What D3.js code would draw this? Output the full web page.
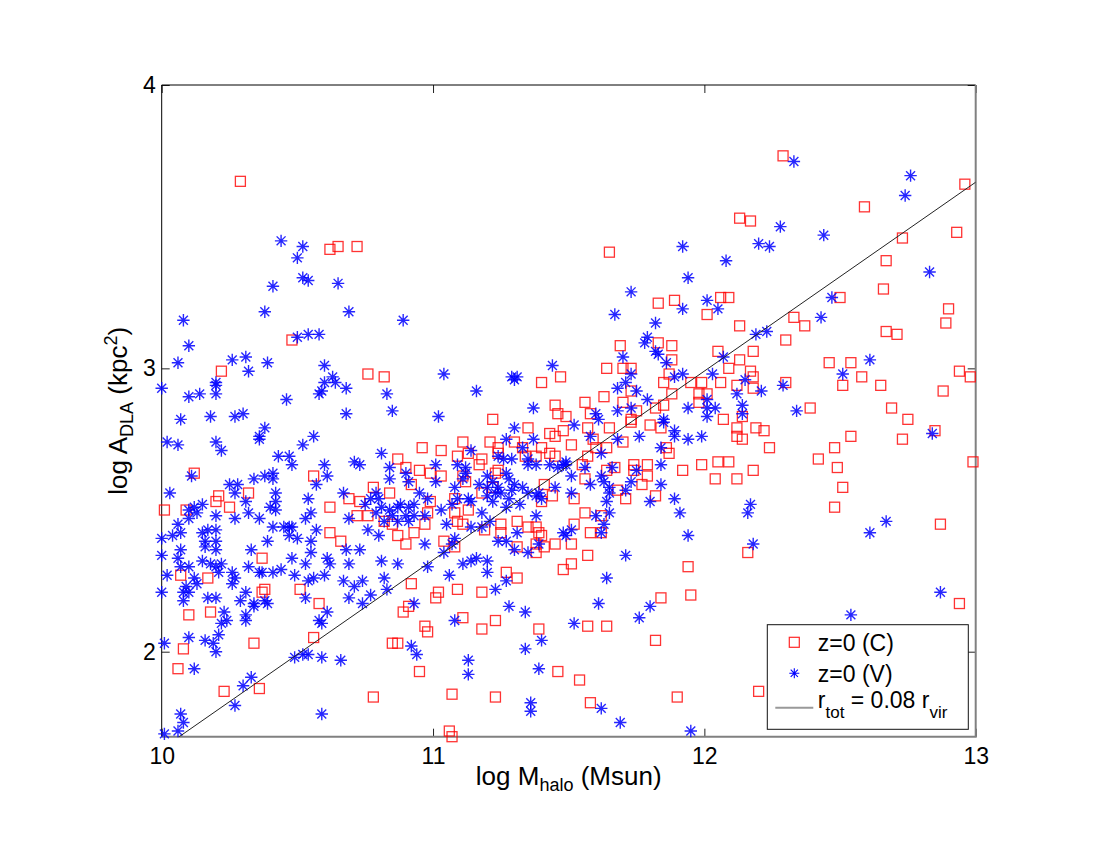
<!DOCTYPE html>
<html>
<head>
<meta charset="utf-8">
<script src="https://cdn.jsdelivr.net/npm/d3@7"></script>
<style>
  body { margin: 0; background: #fff; }
  svg { display: block; }
  text { font-family: "Liberation Sans", Arial, Helvetica, sans-serif; white-space: pre; }
</style>
</head>
<body>
<div id="chart"></div>
<script>
// tick values
const xTicks = [10, 11, 12, 13];
const yTicks = [2, 3, 4];

// r_tot = 0.08 r_vir relation (log A vs log M)
const lineM = [10, 13];
const lineA = [1.657, 3.657];

// z=0 (C): [log Mhalo, log A_DLA]
const haloC = [
  [10.29,3.66],[10.62,3.42],[10.65,3.43],[10.72,3.43],[10.48,3.10],[10.22,2.99],[10.12,2.63],[10.56,2.62],
  [10.32,2.56],[10.21,2.55],[10.20,2.53],[10.25,2.51],[10.01,2.50],[10.09,2.50],[10.62,2.51],[10.69,2.54],
  [10.62,2.42],[10.66,2.39],[10.37,2.33],[10.07,2.27],[10.17,2.26],[10.37,2.21],[10.38,2.22],[10.51,2.22],
  [10.58,2.17],[10.10,2.13],[10.18,2.14],[10.56,2.05],[10.34,2.03],[10.08,2.01],[10.06,1.94],[10.23,1.86],
  [10.36,1.87],[10.76,2.98],[10.82,2.97],[11.40,2.95],[11.47,2.97],[11.45,2.87],[11.46,2.84],[11.22,2.82],
  [11.35,2.79],[11.43,2.77],[11.45,2.76],[11.48,2.78],[11.21,2.74],[11.11,2.74],[10.96,2.72],[11.03,2.71],
  [11.09,2.69],[11.13,2.70],[11.18,2.68],[11.17,2.66],[11.24,2.72],[11.24,2.70],[11.30,2.74],[11.33,2.72],
  [11.40,2.72],[11.38,2.69],[11.43,2.70],[11.45,2.69],[11.34,2.69],[10.87,2.68],[10.90,2.65],[10.95,2.64],
  [10.99,2.63],[11.03,2.62],[10.92,2.59],[11.11,2.62],[11.12,2.60],[11.22,2.58],[11.23,2.63],[11.24,2.64],
  [11.18,2.56],[11.41,2.59],[11.44,2.55],[11.40,2.53],[10.78,2.58],[10.84,2.56],[10.73,2.53],[10.72,2.48],
  [10.76,2.48],[10.82,2.46],[10.85,2.45],[10.87,2.41],[10.93,2.42],[10.90,2.38],[10.97,2.45],[10.99,2.53],
  [10.98,2.49],[11.08,2.54],[11.08,2.49],[11.13,2.50],[11.09,2.46],[11.11,2.45],[11.04,2.39],[11.08,2.37],
  [11.19,2.43],[11.25,2.45],[11.25,2.42],[11.31,2.46],[11.35,2.44],[11.38,2.44],[11.40,2.41],[11.39,2.42],
  [11.31,2.37],[11.38,2.38],[11.41,2.37],[11.38,2.35],[11.45,2.38],[11.48,2.29],[11.27,2.28],[11.31,2.26],
  [10.92,2.24],[11.02,2.21],[11.01,2.19],[11.09,2.22],[11.18,2.21],[10.91,2.16],[10.89,2.14],[11.11,2.12],
  [11.23,2.11],[11.18,2.08],[10.97,2.09],[10.98,2.07],[11.39,2.08],[10.87,2.03],[10.85,2.03],[10.95,1.93],
  [11.46,1.93],[10.78,1.84],[11.07,1.85],[11.23,1.84],[11.06,1.72],[11.07,1.70],[12.13,3.53],[12.17,3.52],
  [11.65,3.41],[11.83,3.23],[11.89,3.24],[12.06,3.25],[12.09,3.25],[12.01,3.19],[12.13,3.15],[11.69,3.08],
  [11.83,3.09],[11.88,3.08],[11.88,3.03],[12.05,3.06],[12.18,3.06],[12.13,3.03],[11.64,3.00],[11.70,3.00],
  [11.73,3.00],[12.09,3.00],[12.17,2.99],[12.18,2.97],[12.18,2.93],[11.87,2.98],[11.85,2.95],[11.95,2.95],
  [11.99,2.95],[12.06,2.95],[12.12,2.94],[11.73,2.92],[11.88,2.91],[11.98,2.91],[12.01,2.91],[11.98,2.88],
  [11.63,2.90],[11.56,2.88],[11.70,2.88],[11.75,2.85],[11.82,2.86],[11.85,2.87],[11.58,2.84],[11.49,2.83],
  [12.07,2.82],[11.73,2.82],[12.14,2.83],[11.57,2.79],[11.65,2.79],[11.73,2.81],[11.80,2.80],[11.84,2.79],
  [12.12,2.79],[12.12,2.76],[12.14,2.75],[12.19,2.79],[12.22,2.78],[12.24,2.72],[11.51,2.73],[11.59,2.75],
  [11.60,2.72],[11.64,2.72],[11.70,2.74],[11.57,2.69],[11.55,2.66],[11.56,2.61],[11.64,2.64],[11.67,2.65],
  [11.74,2.66],[11.79,2.66],[11.74,2.64],[11.79,2.62],[11.77,2.59],[11.86,2.72],[11.87,2.70],[11.92,2.64],
  [11.99,2.66],[12.05,2.67],[12.09,2.67],[12.04,2.61],[12.12,2.61],[12.18,2.64],[11.68,2.57],[11.71,2.54],
  [11.52,2.54],[11.82,2.55],[11.56,2.49],[11.62,2.48],[11.52,2.45],[11.58,2.42],[11.62,2.42],[11.51,2.38],
  [11.57,2.34],[11.51,2.31],[11.94,2.30],[12.16,2.35],[11.95,2.20],[11.84,2.19],[11.57,2.09],[11.64,2.09],
  [11.82,2.04],[11.54,1.90],[11.58,1.82],[11.90,1.84],[12.20,1.86],[12.29,3.75],[12.96,3.65],[12.59,3.57],
  [12.93,3.48],[12.73,3.46],[12.67,3.38],[12.66,3.28],[12.50,3.25],[12.90,3.21],[12.89,3.16],[12.33,3.18],
  [12.37,3.15],[12.30,3.10],[12.67,3.13],[12.71,3.12],[12.46,3.02],[12.54,3.02],[12.58,2.97],[12.51,2.94],
  [12.65,2.94],[12.94,2.99],[12.98,2.97],[12.88,2.92],[12.30,2.95],[12.39,2.86],[12.69,2.86],[12.75,2.82],
  [12.85,2.78],[12.54,2.76],[12.73,2.75],[12.48,2.72],[12.42,2.68],[12.49,2.65],[12.99,2.67],[12.51,2.58],
  [12.48,2.51],[12.87,2.45],[12.94,2.17]
];

// z=0 (V): [log Mhalo, log A_DLA]
const haloV = [
  [10.44,3.45],[10.52,3.43],[10.50,3.39],[10.52,3.32],[10.54,3.31],[10.65,3.30],[10.41,3.29],[10.38,3.20],
  [10.69,3.20],[10.08,3.17],[10.10,3.08],[10.50,3.11],[10.54,3.12],[10.58,3.12],[10.06,3.02],[10.26,3.03],
  [10.31,3.04],[10.32,2.99],[10.39,3.02],[10.60,3.01],[10.00,2.93],[10.10,2.90],[10.14,2.91],[10.20,2.95],
  [10.20,2.94],[10.20,2.91],[10.46,2.89],[10.63,2.97],[10.60,2.95],[10.64,2.95],[10.58,2.91],[10.59,2.92],
  [10.68,2.93],[10.68,2.84],[10.07,2.82],[10.18,2.83],[10.27,2.83],[10.30,2.84],[10.38,2.79],[10.36,2.76],
  [10.36,2.75],[10.56,2.76],[10.52,2.73],[10.02,2.74],[10.06,2.73],[10.20,2.74],[10.22,2.71],[10.11,2.62],
  [10.03,2.56],[10.43,2.69],[10.47,2.69],[10.48,2.66],[10.60,2.66],[10.71,2.67],[10.61,2.62],[10.57,2.59],
  [10.38,2.62],[10.41,2.63],[10.41,2.61],[10.34,2.61],[10.25,2.59],[10.28,2.59],[10.27,2.56],[10.42,2.56],
  [10.42,2.53],[10.40,2.51],[10.42,2.50],[10.31,2.53],[10.32,2.49],[10.36,2.47],[10.27,2.47],[10.20,2.48],
  [10.15,2.52],[10.12,2.51],[10.13,2.49],[10.10,2.47],[10.10,2.50],[10.06,2.45],[10.04,2.41],[10.07,2.42],
  [10.00,2.40],[10.00,2.34],[10.02,2.27],[10.00,2.21],[10.07,2.36],[10.06,2.33],[10.07,2.30],[10.10,2.30],
  [10.15,2.42],[10.16,2.39],[10.17,2.43],[10.20,2.43],[10.20,2.39],[10.16,2.37],[10.20,2.36],[10.15,2.32],
  [10.18,2.31],[10.20,2.30],[10.22,2.31],[10.21,2.28],[10.26,2.28],[10.27,2.26],[10.26,2.24],[10.12,2.26],
  [10.09,2.23],[10.08,2.21],[10.10,2.21],[10.13,2.24],[10.08,2.18],[10.17,2.19],[10.20,2.19],[10.23,2.14],
  [10.24,2.11],[10.22,2.10],[10.21,2.06],[10.29,2.18],[10.31,2.21],[10.34,2.17],[10.34,2.16],[10.31,2.13],
  [10.31,2.11],[10.38,2.18],[10.39,2.17],[10.41,2.44],[10.39,2.39],[10.33,2.36],[10.32,2.30],[10.36,2.28],
  [10.37,2.28],[10.41,2.28],[10.44,2.29],[10.48,2.33],[10.49,2.27],[10.45,2.44],[10.47,2.44],[10.48,2.44],
  [10.47,2.41],[10.50,2.40],[10.53,2.47],[10.55,2.49],[10.54,2.54],[10.55,2.39],[10.55,2.35],[10.53,2.31],
  [10.54,2.25],[10.53,2.19],[10.57,2.43],[10.61,2.33],[10.62,2.31],[10.60,2.27],[10.56,2.26],[10.61,2.14],
  [10.58,2.11],[10.59,2.10],[10.67,2.56],[10.69,2.47],[10.68,2.36],[10.69,2.31],[10.67,2.25],[10.69,2.19],
  [10.71,2.23],[10.01,2.03],[10.10,2.05],[10.16,2.04],[10.19,2.03],[10.20,2.00],[10.12,1.94],[10.49,1.98],
  [10.52,1.99],[10.54,1.99],[10.59,1.98],[10.66,1.97],[10.33,1.91],[10.30,1.88],[10.27,1.81],[10.07,1.78],
  [10.08,1.75],[10.06,1.72],[10.01,1.71],[10.59,1.78],[10.89,3.17],[11.04,2.98],[10.83,2.91],[10.85,2.85],
  [11.02,2.83],[11.16,2.92],[11.29,2.97],[11.31,2.97],[11.30,2.96],[11.44,3.01],[11.37,2.86],[10.81,2.70],
  [10.84,2.65],[10.84,2.61],[10.73,2.66],[10.90,2.63],[10.91,2.60],[11.01,2.66],[11.01,2.60],[10.95,2.56],
  [10.98,2.54],[10.79,2.56],[10.77,2.54],[10.80,2.54],[10.75,2.52],[10.81,2.51],[10.84,2.50],[10.87,2.51],
  [10.88,2.52],[10.91,2.51],[10.93,2.52],[10.85,2.48],[10.90,2.48],[10.93,2.48],[10.97,2.48],[10.79,2.49],
  [10.82,2.46],[10.87,2.46],[10.91,2.46],[10.76,2.43],[10.80,2.41],[10.73,2.36],[10.81,2.32],[10.87,2.31],
  [10.74,2.25],[10.82,2.26],[10.83,2.22],[10.77,2.20],[10.74,2.17],[10.97,2.38],[10.98,2.30],[11.03,2.50],
  [11.05,2.45],[11.04,2.35],[11.06,2.27],[10.93,2.17],[11.08,2.11],[10.92,2.02],[10.94,1.99],[11.13,1.97],
  [11.13,1.92],[11.11,2.31],[11.14,2.32],[11.16,2.33],[11.20,2.32],[11.20,2.28],[11.23,2.22],[11.27,2.25],
  [11.28,2.16],[11.34,2.14],[11.34,2.01],[11.40,2.04],[11.39,1.94],[11.36,1.82],[11.36,1.79],[11.14,2.44],
  [11.18,2.44],[11.21,2.46],[11.08,2.40],[11.07,2.38],[11.24,2.39],[11.27,2.39],[11.31,2.42],[11.30,2.36],
  [11.35,2.35],[11.39,2.38],[11.38,2.48],[11.45,2.58],[11.48,2.42],[11.30,2.79],[11.27,2.75],[11.37,2.75],
  [11.33,2.72],[11.24,2.69],[11.26,2.68],[11.29,2.68],[11.35,2.68],[11.14,2.71],[11.09,2.66],[11.12,2.65],
  [11.11,2.61],[11.12,2.63],[11.20,2.62],[11.22,2.60],[11.27,2.63],[11.28,2.61],[11.30,2.59],[11.33,2.58],
  [11.35,2.66],[11.38,2.66],[11.43,2.66],[11.46,2.65],[11.48,2.66],[11.35,2.56],[11.38,2.55],[11.39,2.56],
  [11.40,2.54],[11.29,2.57],[11.25,2.56],[11.23,2.56],[11.20,2.55],[11.22,2.53],[11.28,2.54],[11.27,2.51],
  [11.32,2.52],[11.13,2.54],[11.14,2.53],[11.08,2.58],[11.07,2.52],[11.09,2.54],[11.18,2.49],[11.24,2.58],
  [11.17,2.59],[11.20,2.58],[11.92,3.43],[12.20,3.44],[12.24,3.43],[12.08,3.38],[11.94,3.32],[11.73,3.27],
  [12.01,3.24],[12.05,3.21],[11.92,3.21],[11.67,3.19],[11.82,3.16],[11.79,3.11],[11.78,3.09],[11.82,3.06],
  [11.83,3.05],[11.86,3.02],[11.70,3.04],[12.19,3.12],[12.23,3.13],[12.07,3.04],[12.03,2.98],[12.15,2.96],
  [12.21,2.92],[12.12,2.91],[12.14,2.87],[12.14,2.84],[11.92,2.98],[11.89,2.97],[11.73,2.98],[11.71,2.95],
  [11.68,2.93],[11.75,2.92],[11.79,2.89],[11.73,2.86],[11.68,2.85],[11.60,2.84],[11.94,2.86],[12.01,2.89],
  [12.01,2.86],[12.04,2.86],[12.01,2.83],[11.85,2.82],[11.52,2.80],[11.61,2.82],[11.58,2.76],[11.68,2.75],
  [11.76,2.76],[11.85,2.81],[11.89,2.78],[11.89,2.76],[11.94,2.75],[11.99,2.76],[11.84,2.72],[11.84,2.66],
  [11.62,2.70],[11.49,2.67],[11.49,2.66],[11.56,2.65],[11.51,2.62],[11.66,2.65],[11.75,2.64],[11.62,2.62],
  [11.63,2.60],[11.73,2.60],[11.58,2.59],[11.65,2.58],[11.65,2.56],[11.71,2.57],[11.64,2.53],[11.84,2.59],
  [11.80,2.53],[11.89,2.54],[11.91,2.49],[11.51,2.56],[11.65,2.49],[11.60,2.48],[11.63,2.45],[11.62,2.42],
  [11.49,2.41],[11.51,2.43],[11.94,2.41],[12.17,2.52],[12.16,2.49],[12.18,2.38],[11.71,2.34],[11.64,2.26],
  [11.61,2.17],[11.80,2.16],[11.76,2.12],[11.52,2.10],[11.62,1.80],[11.69,1.75],[11.95,1.72],[12.33,3.73],
  [12.76,3.68],[12.74,3.61],[12.28,3.50],[12.44,3.47],[12.83,3.34],[12.47,3.25],[12.43,3.18],[12.61,3.03],
  [12.51,2.98],[12.29,2.94],[12.34,2.85],[12.84,2.77],[12.67,2.46],[12.61,2.42],[12.87,2.21],[12.54,2.13]
];

const legendLabels = ["z=0 (C)", "z=0 (V)"];

const width = 1100, height = 850;
const plot = {left: 161.7, top: 85, right: 975.7, bottom: 736.7};
const tickFont = 23, labelFont = 26, legendFont = 23;

const x = d3.scaleLinear().domain([10, 13]).range([plot.left, plot.right]);
const y = d3.scaleLinear().domain([1.7, 4]).range([plot.bottom, plot.top]);

const svg = d3.select("#chart").append("svg")
  .attr("width", width)
  .attr("height", height);

svg.append("rect").attr("width", width).attr("height", height).attr("fill", "#fff");

svg.append("defs").append("clipPath").attr("id", "plotClip")
  .append("rect")
  .attr("x", plot.left).attr("y", plot.top)
  .attr("width", plot.right - plot.left).attr("height", plot.bottom - plot.top);

// asterisk marker like MATLAB '*'
function starPath(r) {
  const d = r * 0.72;
  return `M${-r},0H${r}M0,${-r}V${r}M${-d},${-d}L${d},${d}M${-d},${d}L${d},${-d}`;
}

function styleAxis(g) {
  g.select(".domain").remove();
  g.selectAll(".tick line").attr("stroke", "#222").attr("stroke-width", 1);
  g.selectAll(".tick text")
    .attr("fill", "#000")
    .style("font-size", tickFont + "px")
    .style("font-family", '"Liberation Sans", Arial, sans-serif');
}

const fmt = d3.format("d");

// axes with inward ticks on all four sides
svg.append("g")
  .attr("transform", `translate(0,${plot.bottom})`)
  .call(d3.axisBottom(x).tickValues(xTicks).tickFormat(fmt).tickSizeInner(-8).tickSizeOuter(0).tickPadding(11))
  .call(styleAxis);

svg.append("g")
  .attr("transform", `translate(0,${plot.top})`)
  .call(d3.axisTop(x).tickValues(xTicks).tickSizeInner(-8).tickSizeOuter(0).tickFormat(""))
  .call(styleAxis);

svg.append("g")
  .attr("transform", `translate(${plot.left},0)`)
  .call(d3.axisLeft(y).tickValues(yTicks).tickFormat(fmt).tickSizeInner(-8).tickSizeOuter(0).tickPadding(6))
  .call(styleAxis);

svg.append("g")
  .attr("transform", `translate(${plot.right},0)`)
  .call(d3.axisRight(y).tickValues(yTicks).tickSizeInner(-8).tickSizeOuter(0).tickFormat(""))
  .call(styleAxis);

// frame
svg.append("line").attr("x1", plot.left).attr("x2", plot.right).attr("y1", plot.top).attr("y2", plot.top)
  .attr("stroke", "#000").attr("stroke-width", 1);
svg.append("line").attr("x1", plot.left).attr("x2", plot.left).attr("y1", plot.top).attr("y2", plot.bottom)
  .attr("stroke", "#000").attr("stroke-width", 1);
svg.append("line").attr("x1", plot.left).attr("x2", plot.right + 1).attr("y1", plot.bottom).attr("y2", plot.bottom)
  .attr("stroke", "#808080").attr("stroke-width", 2);
svg.append("line").attr("x1", plot.right).attr("x2", plot.right).attr("y1", plot.top).attr("y2", plot.bottom)
  .attr("stroke", "#808080").attr("stroke-width", 2);

// C series squares
const sq = 10;
svg.append("g").selectAll("rect")
  .data(haloC)
  .join("rect")
  .attr("x", d => x(d[0]) - sq / 2)
  .attr("y", d => y(d[1]) - sq / 2)
  .attr("width", sq)
  .attr("height", sq)
  .attr("fill", "none")
  .attr("stroke", "#ff0000")
  .attr("stroke-opacity", 0.8)
  .attr("stroke-width", 1.3);

// V series asterisks
svg.append("g").selectAll("path")
  .data(haloV)
  .join("path")
  .attr("transform", d => `translate(${x(d[0])},${y(d[1])})`)
  .attr("d", starPath(6.2))
  .attr("fill", "none")
  .attr("stroke", "#0000ff")
  .attr("stroke-opacity", 0.85)
  .attr("stroke-width", 1.4);

// relation line
svg.append("line")
  .attr("clip-path", "url(#plotClip)")
  .attr("x1", x(lineM[0])).attr("y1", y(lineA[0]))
  .attr("x2", x(lineM[1])).attr("y2", y(lineA[1]))
  .attr("stroke", "#222")
  .attr("stroke-width", 1);

// axis labels
const xLabel = svg.append("text")
  .attr("x", (plot.left + plot.right) / 2)
  .attr("y", 785)
  .attr("text-anchor", "middle")
  .style("font-size", labelFont + "px");
xLabel.append("tspan").text("log M");
xLabel.append("tspan").attr("dy", 6).style("font-size", "18px").text("halo");
xLabel.append("tspan").attr("dy", -6).text(" (Msun)");

const yLabel = svg.append("text")
  .attr("transform", `translate(127,${(plot.top + plot.bottom) / 2}) rotate(-90)`)
  .attr("text-anchor", "middle")
  .style("font-size", labelFont + "px");
yLabel.append("tspan").text("log A");
yLabel.append("tspan").attr("dy", 6).style("font-size", "18px").text("DLA");
yLabel.append("tspan").attr("dy", -6).text(" (kpc");
yLabel.append("tspan").attr("dy", -10).style("font-size", "18px").text("2");
yLabel.append("tspan").attr("dy", 10).text(")");

// legend
const legend = svg.append("g").attr("transform", "translate(767.3,624.7)");
legend.append("rect")
  .attr("width", 201).attr("height", 104.6)
  .attr("fill", "#fff").attr("stroke", "#111").attr("stroke-width", 1);

legend.append("rect")
  .attr("x", 27 - 5).attr("y", 17.6 - 5).attr("width", 10).attr("height", 10)
  .attr("fill", "none").attr("stroke", "#ff0000").attr("stroke-opacity", 0.85).attr("stroke-width", 1.2);
legend.append("path")
  .attr("transform", "translate(27,48.6)")
  .attr("d", starPath(5))
  .attr("fill", "none").attr("stroke", "#0000ff").attr("stroke-width", 1.1);
legend.append("line")
  .attr("x1", 8).attr("x2", 46).attr("y1", 83).attr("y2", 83)
  .attr("stroke", "#999").attr("stroke-width", 2);

legend.selectAll("text.entry")
  .data(legendLabels)
  .join("text")
  .attr("class", "entry")
  .attr("x", 50.5)
  .attr("y", (d, i) => 26 + i * 31)
  .style("font-size", legendFont + "px")
  .text(d => d);

const rText = legend.append("text")
  .attr("x", 50.5).attr("y", 83)
  .style("font-size", legendFont + "px");
rText.append("tspan").text("r");
rText.append("tspan").attr("dy", 10).style("font-size", "17px").text("tot");
rText.append("tspan").attr("dy", -10).text(" = 0.08 r");
rText.append("tspan").attr("dy", 10).style("font-size", "17px").text("vir");
</script>
</body>
</html>
